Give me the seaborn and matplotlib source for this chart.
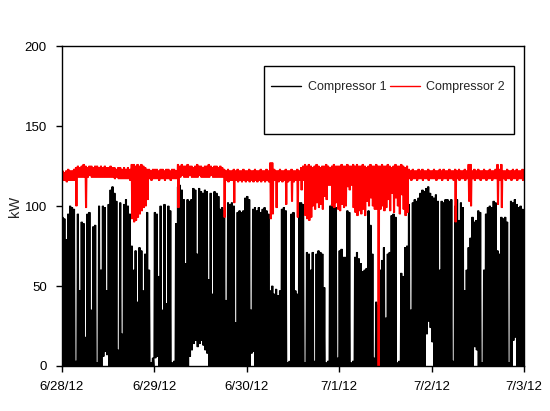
import numpy as np
import pandas as pd
import matplotlib
matplotlib.use("Agg")
import matplotlib.pyplot as plt
from matplotlib.patches import Rectangle
import seaborn as sns

# readings per half-hour slot, 6/28/12 00:00 .. 7/3/12 00:00 (240 slots)
# compressor 1: peak of the on/off cycling in each slot
comp1_peak = [
    93, 92, 79, 95, 100, 99, 98, 3, 95, 47, 90, 89, 18, 95, 96, 35, 87, 88, 2, 100, 60, 100, 99, 47,
    101, 110, 112, 108, 103, 10, 102, 20, 101, 104, 100, 95, 75, 60, 72, 40, 74, 72, 47, 70, 96, 60, 2, 5,
    96, 95, 56, 100, 35, 101, 39, 100, 97, 2, 3, 89, 112, 113, 110, 104, 64, 104, 103, 104, 111, 110, 70, 111,
    109, 108, 110, 109, 54, 108, 45, 109, 108, 106, 98, 99, 97, 41, 102, 101, 102, 100, 27, 96, 97, 96, 97, 105,
    106, 104, 35, 98, 99, 97, 99, 96, 98, 99, 97, 95, 47, 50, 45, 48, 44, 47, 98, 99, 97, 2, 3, 95,
    96, 47, 45, 102, 102, 101, 2, 71, 70, 60, 71, 3, 70, 72, 71, 70, 49, 2, 3, 100, 101, 100, 99, 5,
    72, 73, 68, 68, 97, 96, 2, 3, 68, 71, 67, 64, 59, 60, 61, 97, 88, 70, 5, 40, 38, 60, 66, 74,
    30, 70, 71, 94, 95, 93, 2, 3, 58, 56, 74, 75, 101, 35, 102, 104, 103, 105, 108, 110, 109, 111, 112, 108,
    106, 105, 107, 103, 60, 103, 102, 104, 104, 103, 104, 3, 100, 104, 91, 102, 99, 47, 60, 74, 80, 93, 90, 91,
    97, 96, 2, 60, 95, 99, 100, 99, 103, 102, 72, 70, 93, 92, 93, 90, 2, 103, 102, 104, 101, 99, 100, 98,
]
# slots where compressor 1 never dropped to zero
comp1_floor = {21: 6, 22: 9, 23: 7, 48: 5, 49: 6, 66: 6, 67: 10, 68: 14, 69: 16, 70: 12, 71: 14,
               72: 16, 73: 13, 74: 10, 75: 8, 98: 8, 99: 9, 189: 20, 190: 28, 191: 24, 192: 15,
               214: 12, 215: 10, 234: 16, 235: 18}

comp2_high = [
    122, 121, 122, 123, 122, 122, 123, 124, 125, 124, 125, 126, 125, 124, 125, 125, 124, 125, 125, 124, 125, 124, 125, 124,
    124, 125, 124, 124, 123, 124, 124, 123, 124, 123, 124, 123, 126, 126, 125, 126, 125, 126, 125, 124, 123, 123, 122, 123,
    123, 123, 122, 123, 123, 122, 123, 123, 122, 123, 123, 122, 126, 125, 126, 125, 125, 126, 125, 125, 124, 125, 126, 125,
    125, 124, 125, 125, 126, 125, 124, 125, 125, 124, 125, 124, 123, 122, 123, 122, 122, 123, 122, 123, 122, 122, 123, 122,
    122, 123, 122, 122, 123, 122, 122, 123, 122, 122, 123, 122, 127, 127, 123, 122, 122, 123, 122, 122, 123, 122, 122, 123,
    122, 122, 123, 122, 124, 125, 126, 125, 126, 125, 124, 125, 126, 125, 124, 125, 125, 126, 125, 124, 125, 126, 125, 125,
    125, 126, 125, 125, 126, 125, 125, 126, 125, 126, 125, 125, 126, 125, 124, 125, 126, 125, 125, 126, 125, 125, 126, 125,
    125, 126, 125, 124, 125, 126, 125, 125, 126, 125, 124, 125, 123, 122, 123, 122, 122, 123, 122, 123, 122, 122, 123, 122,
    122, 123, 122, 122, 123, 122, 123, 122, 122, 123, 122, 122, 123, 122, 123, 122, 122, 123, 122, 126, 126, 122, 123, 122,
    123, 122, 122, 123, 122, 122, 123, 122, 122, 123, 126, 123, 126, 122, 122, 123, 122, 122, 123, 122, 123, 122, 122, 123,
]
comp2_low = [
    116, 116, 115, 116, 116, 116, 116, 100, 118, 118, 118, 118, 99, 118, 119, 118, 118, 118, 118, 118, 118, 118, 118, 118,
    118, 118, 118, 117, 118, 117, 117, 117, 117, 117, 117, 116, 92, 90, 91, 93, 95, 97, 99, 100, 104, 117, 116, 117,
    117, 117, 116, 117, 117, 116, 117, 117, 116, 117, 117, 117, 99, 118, 119, 118, 118, 118, 119, 118, 118, 118, 118, 119,
    118, 118, 118, 118, 118, 119, 118, 118, 118, 118, 118, 118, 93, 116, 115, 116, 116, 102, 116, 115, 116, 115, 116, 115,
    116, 115, 116, 115, 116, 115, 116, 115, 116, 115, 116, 115, 92, 95, 116, 99, 115, 116, 115, 116, 101, 115, 116, 103,
    115, 116, 93, 116, 110, 116, 94, 92, 91, 93, 100, 98, 102, 99, 101, 98, 106, 104, 113, 113, 100, 99, 102, 98,
    97, 101, 99, 100, 112, 110, 113, 99, 96, 94, 97, 95, 98, 94, 103, 100, 105, 100, 98, 98, 0, 98, 100, 97,
    99, 104, 97, 108, 96, 105, 100, 95, 107, 98, 94, 96, 117, 116, 117, 117, 116, 117, 117, 116, 117, 117, 116, 117,
    117, 117, 116, 117, 117, 116, 117, 117, 116, 117, 117, 116, 90, 117, 116, 117, 117, 116, 117, 103, 100, 117, 116, 117,
    117, 116, 117, 117, 116, 117, 117, 116, 117, 117, 101, 116, 99, 117, 116, 117, 117, 116, 117, 117, 116, 117, 117, 116,
]

day_ticks = ["2012-06-28", "2012-06-29", "2012-06-30", "2012-07-01", "2012-07-02", "2012-07-03"]
day_labels = ["6/28/12", "6/29/12", "6/30/12", "7/1/12", "7/2/12", "7/3/12"]
y_ticks = [0, 50, 100, 150, 200]

# four samples per half-hour slot: peak, trough, peak, trough
n_slots = len(comp1_peak)
times = pd.Timestamp("2012-06-28") + pd.to_timedelta(np.arange(n_slots * 4) * 7.5, unit="min")
c1 = []
c2 = []
for i in range(n_slots):
    lo = comp1_floor.get(i, 0)
    c1 += [comp1_peak[i], lo, comp1_peak[i], lo]
    c2 += [comp2_high[i], comp2_low[i], comp2_high[i], comp2_low[i]]

df = pd.DataFrame({
    "time": np.concatenate([times, times]),
    "kW": c1 + c2,
    "unit": ["Compressor 1"] * len(c1) + ["Compressor 2"] * len(c2),
})

sns.set_style("ticks")
plt.rcParams["font.family"] = ["Liberation Sans", "DejaVu Sans"]

fig = plt.figure(figsize=(5.5, 4.11), dpi=100)
ax = fig.add_axes([0.1127, 0.1095, 0.84, 0.7785])
sns.lineplot(data=df, x="time", y="kW", hue="unit", estimator=None, sort=False,
             palette={"Compressor 1": "black", "Compressor 2": "#ff0000"},
             linewidth=0.8, ax=ax, legend=False)

ax.set_xlim(pd.Timestamp(day_ticks[0]), pd.Timestamp(day_ticks[-1]))
ax.set_ylim(0, 200)
ax.set_xticks(pd.to_datetime(day_ticks))
ax.set_xticklabels(day_labels, fontsize=9.5)
ax.set_yticks(y_ticks)
ax.set_yticklabels([str(v) for v in y_ticks], fontsize=9.5)
ax.set_xlabel("")
ax.set_ylabel("kW", fontsize=10.5, labelpad=2)
ax.tick_params(direction="out", length=4, width=1, colors="black", pad=7, top=False, right=False)
for sp in ax.spines.values():
    sp.set_visible(True)
    sp.set_linewidth(1)
    sp.set_color("black")

# legend, with a taller box the way the original draws it
h1, = ax.plot([], [], color="black", lw=1)
h2, = ax.plot([], [], color="#ff0000", lw=1)
ax.legend([h1, h2], ["Compressor 1", "Compressor 2"], ncol=2, loc="center left",
          bbox_to_anchor=(0.453, 0.872), frameon=False, fontsize=9, handlelength=2.4,
          handletextpad=0.5, columnspacing=0.3, borderpad=0, borderaxespad=0)
ax.add_patch(Rectangle((0.437, 0.725), 0.541, 0.2125, transform=ax.transAxes,
                       fill=False, lw=1, ec="black", zorder=5))

plt.savefig("out.png", dpi=100)
print("Saved: out.png")
